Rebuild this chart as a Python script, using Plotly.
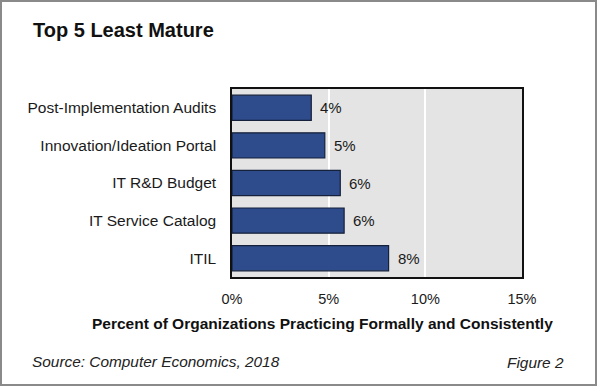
import plotly.graph_objects as go

categories = ["Post-Implementation Audits", "Innovation/Ideation Portal", "IT R&D Budget",
              "IT Service Catalog", "ITIL"]
values = [4.1, 4.8, 5.6, 5.8, 8.1]
labels = [f"{round(v)}%" for v in values]
tick_vals = [0, 5, 10, 15]
tick_text = ["0%", "5%", "10%", "15%"]

W, H = 597, 386
L, R, T, B = 232, 522, 89, 277  # plot area in pixels

def px(x):
    return (x - L) / (R - L)

def py(y):
    return (B - y) / (B - T)

FONT = "Liberation Sans, Arial, sans-serif"
BAR = "#2E4B8C"

fig = go.Figure()
fig.add_trace(go.Bar(
    y=categories, x=values, orientation="h",
    marker=dict(color=BAR, line=dict(color="#15203a", width=1.2)),
    width=0.67, hoverinfo="skip",
))

for c, v, t in zip(categories, values, labels):
    fig.add_annotation(x=v, y=c, text=t, showarrow=False, xanchor="left",
                       xshift=7, font=dict(family=FONT, size=15, color="#1a1a1a"))

fig.update_layout(
    width=W, height=H,
    margin=dict(l=L, r=W - R, t=T, b=H - B),
    paper_bgcolor="white", plot_bgcolor="#E4E4E4",
    showlegend=False,
    font=dict(family=FONT, color="#1a1a1a"),
    xaxis=dict(range=[0, 15], tickvals=tick_vals, ticktext=tick_text,
               showgrid=True, gridcolor="white", gridwidth=1.5, zeroline=False,
               showline=True, linecolor="#111", linewidth=1.5, mirror=True,
               ticks="", ticklabelstandoff=8, tickfont=dict(size=14.5, family=FONT),
               fixedrange=True),
    yaxis=dict(categoryorder="array", categoryarray=categories[::-1],
               range=[-0.5, 4.5], showgrid=False, zeroline=False,
               showline=True, linecolor="#111", linewidth=1.5, mirror=True,
               ticks="", ticklabelstandoff=11, tickfont=dict(size=15.5, family=FONT),
               fixedrange=True),
)

# title
fig.add_annotation(xref="paper", yref="paper", x=px(31), y=py(30), xanchor="left",
                   yanchor="middle", showarrow=False, text="<b>Top 5 Least Mature</b>",
                   font=dict(family=FONT, size=20, color="#111"))
# axis title
fig.add_annotation(xref="paper", yref="paper", x=px(322.5), y=py(323.5), xanchor="center",
                   yanchor="middle", showarrow=False,
                   text="<b>Percent of Organizations Practicing Formally and Consistently</b>",
                   font=dict(family=FONT, size=15.5, color="#111"))
# source
fig.add_annotation(xref="paper", yref="paper", x=px(30), y=py(361), xanchor="left",
                   yanchor="middle", showarrow=False,
                   text="<i>Source: Computer Economics, 2018</i>",
                   font=dict(family=FONT, size=15.4, color="#222"))
fig.add_annotation(xref="paper", yref="paper", x=px(566), y=py(362.5), xanchor="right",
                   yanchor="middle", showarrow=False, text="<i>Figure 2</i>",
                   font=dict(family=FONT, size=15.4, color="#222"))

# outer frame
fig.add_shape(type="rect", xref="paper", yref="paper",
              x0=px(1), x1=px(596), y0=py(385), y1=py(1),
              line=dict(color="#8a8a8a", width=2), fillcolor="rgba(0,0,0,0)", layer="above")

fig.write_html("out.html", config={"displayModeBar": False},
               post_script="document.body.style.margin='0';document.body.style.overflow='hidden';")
